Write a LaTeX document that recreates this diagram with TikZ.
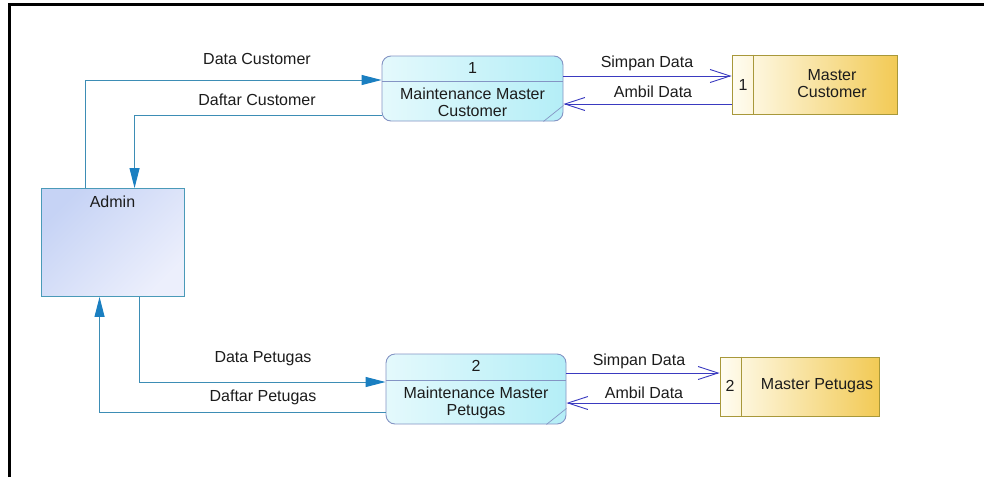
\documentclass[tikz,border=0pt]{standalone}
\usepackage{fontspec}
\setmainfont{Liberation Sans}
\usetikzlibrary{arrows.meta,positioning}

\definecolor{flowline}{HTML}{3D8DB5}
\definecolor{flowtip}{HTML}{1A7FC1}
\definecolor{storeline}{HTML}{3A3AC0}
\definecolor{procborder}{HTML}{8494C4}
\definecolor{procA}{HTML}{E4F9FC}
\definecolor{procB}{HTML}{B4EEF7}
\definecolor{adminborder}{HTML}{4A9AB8}
\definecolor{adminA}{HTML}{C6D3F5}
\definecolor{adminB}{HTML}{ECEFFC}
\definecolor{storeborder}{HTML}{A8983A}
\definecolor{storeA}{HTML}{FFFDF2}
\definecolor{storeB}{HTML}{F2CA55}
\definecolor{txt}{HTML}{1C1C1C}

\tikzset{
  x=1pt, y=-1pt,
  lbl/.style={inner sep=0pt, text=txt, font=\fontsize{16}{17}\selectfont, align=center},
  adminbox/.style={draw=adminborder, line width=0.9pt,
    top color=adminA, bottom color=adminB, shading angle=45,
    inner sep=0pt, minimum width=143pt, minimum height=108pt},
  procbox/.style={draw=procborder, line width=0.9pt, rounded corners=9pt,
    left color=procA, right color=procB, inner sep=0pt},
  storebox/.style={draw=storeborder, line width=0.9pt, left color=storeA, right color=storeB,
    inner sep=0pt, minimum height=59pt},
  flowA/.style={draw=flowline, line width=1pt,
    -{Triangle[length=20pt,width=10pt,fill=flowtip,color=flowtip]}},
  flowB/.style={draw=storeline, line width=0.9pt,
    -{Straight Barb[length=20pt,width=13pt,line width=0.9pt]}},
}

\begin{document}
\begin{tikzpicture}
\useasboundingbox (0,0) rectangle (984,477);
\fill[white] (0,0) rectangle (984,477);

% outer frame
\coordinate (fbl) at (9.5,477);
\coordinate (ftl) at (9.5,4.5);
\coordinate (ftr) at (984,4.5);
\draw[black, line width=2.2pt] (fbl) -- (ftl) -- (ftr);

% external entity
\node[adminbox] (admin) at (112.5,242.5) {};
\node[lbl] (admintxt) at (112.5,202) {Admin};

% processes
\node[procbox, minimum width=181pt, minimum height=65pt] (p1) at (472.5,88.5) {};
\draw[procborder, line width=0.9pt] ([yshift=-26pt]p1.north west) -- ([yshift=-26pt]p1.north east);
\draw[procborder, line width=0.7pt] ([xshift=-20pt]p1.south east) -- ([yshift=16pt]p1.south east);
\node[lbl] (p1num) at (472.5,68) {1};
\node[lbl] (p1txt) at (472.5,102) {Maintenance Master\\Customer};

\node[procbox, minimum width=180pt, minimum height=70pt] (p2) at (476,389) {};
\draw[procborder, line width=0.9pt] ([yshift=-27pt]p2.north west) -- ([yshift=-27pt]p2.north east);
\draw[procborder, line width=0.7pt] ([xshift=-20pt]p2.south east) -- ([yshift=16pt]p2.south east);
\node[lbl] (p2num) at (476,366) {2};
\node[lbl] (p2txt) at (476,402.5) {Maintenance Master\\Petugas};

% data stores
\node[storebox, minimum width=165pt] (s1) at (814.5,84.5) {};
\draw[storeborder, line width=0.9pt] ([xshift=22pt]s1.north west) -- ([xshift=22pt]s1.south west);
\node[lbl] (s1num) at (743,85) {1};
\node[lbl] (s1txt) at (832,84) {Master\\Customer};

\node[storebox, minimum width=159pt] (s2) at (799.5,386.5) {};
\draw[storeborder, line width=0.9pt] ([xshift=22pt]s2.north west) -- ([xshift=22pt]s2.south west);
\node[lbl] (s2num) at (730,386) {2};
\node[lbl] (s2txt) at (817,386) {Master Petugas};

% flows between Admin and processes
\draw[flowA] ([xshift=45pt]admin.north west) |- ([yshift=8.5pt]p1.west);
\draw[flowA] ([yshift=-26.5pt]p1.west) -| ([xshift=94pt]admin.north west);
\draw[flowA] ([xshift=99pt]admin.south west) |- ([yshift=7pt]p2.west);
\draw[flowA] ([yshift=-23pt]p2.west) -| ([xshift=59pt]admin.south west);

\node[lbl] (l1) at (257,59) {Data Customer};
\node[lbl] (l2) at (257,100) {Daftar Customer};
\node[lbl] (l3) at (263,359) {Data Petugas};
\node[lbl] (l4) at (263,397) {Daftar Petugas};

% flows between processes and stores
\draw[flowB] ([yshift=12.5pt]p1.east) -- ([yshift=12.5pt]p1.east -| s1.west);
\draw[flowB] ([yshift=-15.5pt]p1.east -| s1.west) -- ([yshift=-15.5pt]p1.east);
\draw[flowB] ([yshift=16pt]p2.east) -- ([yshift=16pt]p2.east -| s2.west);
\draw[flowB] ([yshift=-14pt]p2.east -| s2.west) -- ([yshift=-14pt]p2.east);

\node[lbl] (l5) at (647,63) {Simpan Data};
\node[lbl] (l6) at (653,92) {Ambil Data};
\node[lbl] (l7) at (639,361) {Simpan Data};
\node[lbl] (l8) at (644,393) {Ambil Data};
\end{tikzpicture}
\end{document}
